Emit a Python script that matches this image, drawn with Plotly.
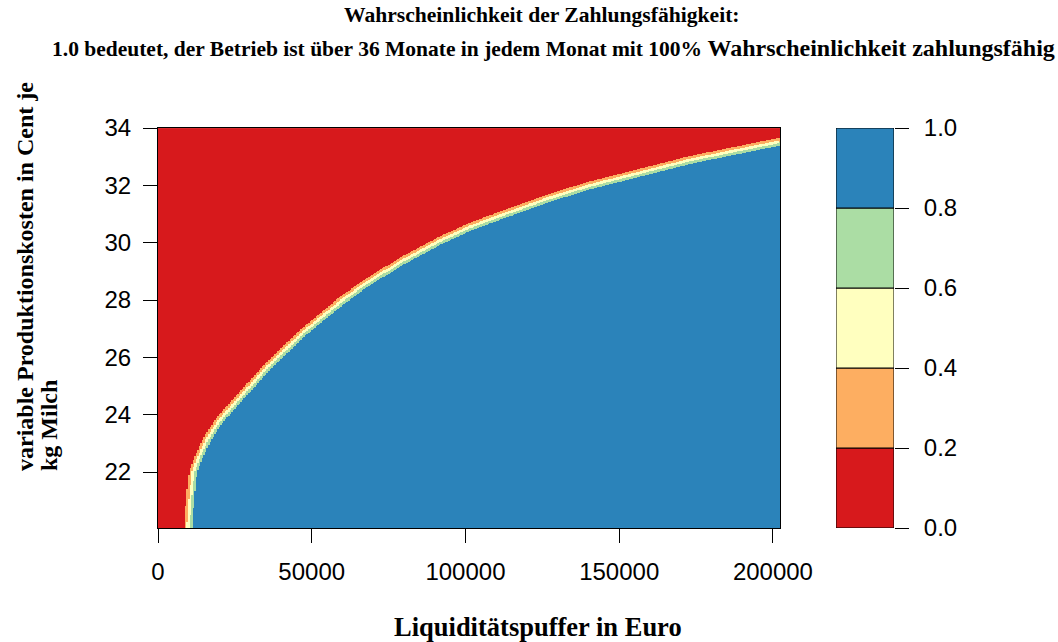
import numpy as np
import plotly.graph_objects as go

# ---------------- data ----------------
# 50%-boundary of the probability surface: cost level (ct/kg) and buffer (EUR)
kosten_grenze = [20.05, 21.02, 22.00, 22.45, 23.12, 23.74, 24.34, 25.70, 26.88, 27.83,
                 28.66, 29.40, 30.06, 30.54, 30.93, 31.56, 31.99, 32.88, 33.51]
puffer_grenze = [9800, 10400, 11400, 13000, 15900, 19500, 24400, 35800, 47200, 57900,
                 68900, 80300, 91700, 101500, 111200, 127500, 140500, 173000, 201600]

x_bereich = [0, 202300]
y_bereich = [20.05, 34.0]
x_ticks = [0, 50000, 100000, 150000, 200000]
y_ticks = [22, 24, 26, 28, 30, 32, 34]
stufen = [0.0, 0.2, 0.4, 0.6, 0.8, 1.0]
stufen_text = ["0.0", "0.2", "0.4", "0.6", "0.8", "1.0"]
farben = ["#d7191c", "#fdae61", "#ffffbf", "#abdda4", "#2b83ba"]

titel1 = "Wahrscheinlichkeit der Zahlungsfähigkeit:"
titel2a = "1.0 bedeutet, der Betrieb ist über 36 Monate in jedem Monat mit 100%"
titel2b = "Wahrscheinlichkeit zahlungsfähig"
x_titel = "Liquiditätspuffer in Euro"
y_titel1 = "variable Produktionskosten in Cent je"
y_titel2 = "kg Milch"

# ---------------- geometry (pixels) ----------------
W, H = 1058, 642
PL, PR, PT, PB = 158, 780, 128, 528
LL, LR = 836, 894

# ---------------- probability grid built from the boundary ----------------
puffer = np.arange(0, 202301, 500.0)
kosten = np.arange(20.05, 34.0001, 0.035)
sx = (PR - PL) / (x_bereich[1] - x_bereich[0])
sy = (PB - PT) / (y_bereich[1] - y_bereich[0])
bx = np.array(puffer_grenze) * sx
by = np.array(kosten_grenze) * sy
GX, GY = np.meshgrid(puffer * sx, kosten * sy)
P = np.stack([GX.ravel(), GY.ravel()], axis=1)
A = np.stack([bx[:-1], by[:-1]], axis=1)
B = np.stack([bx[1:], by[1:]], axis=1)
AB = B - A
dmin = np.full(P.shape[0], np.inf)
for a, ab in zip(A, AB):
    t = np.clip(((P - a) @ ab) / (ab @ ab), 0, 1)
    proj = a + t[:, None] * ab
    d = np.hypot(P[:, 0] - proj[:, 0], P[:, 1] - proj[:, 1])
    dmin = np.minimum(dmin, d)
dmin = dmin.reshape(GX.shape)
xb = np.interp(kosten, kosten_grenze, puffer_grenze, right=np.inf)
sign = np.where(puffer[None, :] > xb[:, None], 1.0, -1.0)
band = 13.0  # pixel width from p=0 to p=1
z = np.clip(0.5 + sign * dmin / band, 0, 0.999)
z = (np.floor(z / 0.2) * 0.2 + 0.1).round(1)  # class mid-points

cs = []
for i, f in enumerate(farben):
    cs.append([stufen[i], f])
    cs.append([stufen[i + 1], f])

fig = go.Figure()
fig.add_trace(go.Heatmap(x=puffer, y=kosten, z=z, colorscale=cs, zmin=0, zmax=1,
                         showscale=False, hoverinfo="skip", xaxis="x", yaxis="y"))
fig.add_trace(go.Bar(x=[0] * len(farben), y=list(np.diff(stufen)), base=stufen[:-1],
                     width=1, marker=dict(color=farben, line=dict(color="black", width=1)),
                     hoverinfo="skip", xaxis="x2", yaxis="y2", showlegend=False))

tickfont = dict(family="Liberation Sans, Arial", size=24, color="black")
serif = "Liberation Serif, Times New Roman"
ydom = [(H - PB) / H, (H - PT) / H]

fig.update_layout(
    template="none",
    width=W, height=H, margin=dict(l=0, r=0, t=0, b=0, pad=0),
    paper_bgcolor="white", plot_bgcolor="white", showlegend=False,
    barmode="overlay",
    xaxis=dict(domain=[PL / W, PR / W], range=x_bereich, tickvals=x_ticks,
               ticktext=[str(v) for v in x_ticks], ticks="outside", ticklen=14,
               tickwidth=1, tickcolor="black", showline=True, linecolor="black",
               linewidth=1, mirror=True, showgrid=False, zeroline=False,
               tickfont=tickfont, anchor="y", ticklabelstandoff=8, automargin=False),
    yaxis=dict(domain=ydom, range=y_bereich, tickvals=y_ticks, ticks="outside",
               ticklen=14, tickwidth=1, tickcolor="black", showline=True,
               linecolor="black", linewidth=1, mirror=True, showgrid=False,
               zeroline=False, tickfont=tickfont, anchor="x", ticklabelstandoff=7,
               automargin=False),
    xaxis2=dict(domain=[LL / W, LR / W], range=[-0.5, 0.5], showticklabels=False,
                ticks="", showline=False, showgrid=False, zeroline=False, anchor="y2",
                automargin=False),
    yaxis2=dict(domain=ydom, range=[0, 1], side="right", tickvals=stufen,
                ticktext=stufen_text, ticks="outside", ticklen=14, tickwidth=1,
                tickcolor="black", showline=False, showgrid=False, zeroline=False,
                tickfont=tickfont, anchor="x2", ticklabelstandoff=10, automargin=False),
)

ann = [
    dict(text="<b>" + titel1 + "</b>", x=542 / W, y=1 - 15 / H, font=dict(family=serif, size=21.6, color="black")),
    dict(text="<b>" + titel2a + " <span style='font-size:24px'>" + titel2b + "</span></b>",
         x=553 / W, y=1 - 48 / H, font=dict(family=serif, size=21.5, color="black")),
    dict(text="<b>" + x_titel + "</b>", x=538 / W, y=1 - 627 / H,
         font=dict(family=serif, size=26.5, color="black")),
    dict(text="<b>" + y_titel1 + "</b>", x=25 / W, y=1 - 277 / H, textangle=-90,
         font=dict(family=serif, size=24, color="black")),
    dict(text="<b>" + y_titel2 + "</b>", x=49 / W, y=1 - 426 / H, textangle=-90,
         font=dict(family=serif, size=24, color="black")),
]
for a in ann:
    fig.add_annotation(xref="paper", yref="paper", xanchor="center", yanchor="middle",
                       showarrow=False, **a)

fig.write_html("out.html", config={"displayModeBar": False},
               post_script="document.body.style.margin='0px';document.body.style.overflow='hidden';")
